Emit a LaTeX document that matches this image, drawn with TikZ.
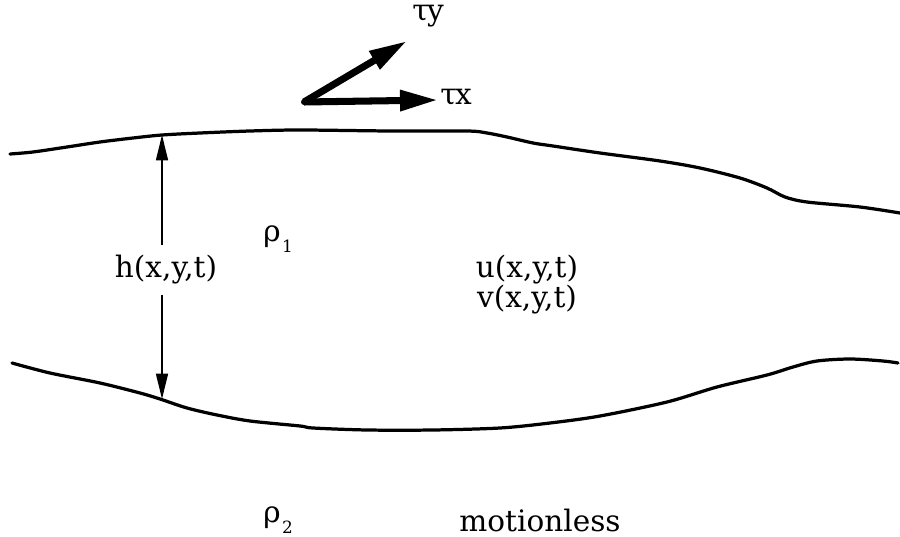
\documentclass[tikz,border=0pt]{standalone}
\usepackage{fontspec}
\setmainfont{DejaVu Serif}
\usetikzlibrary{arrows.meta}
\begin{document}
\begin{tikzpicture}[x=0.025cm,y=-0.025cm,
  lbl/.style={font=\fontsize{21}{24}\selectfont, inner sep=0pt},
  surf/.style={line width=2.3pt, line join=round, line cap=round},
  harrow/.style={line width=1.1pt, -{Triangle[length=18pt,width=8.5pt]}},
  tauarrow/.style={line width=5pt, -{Triangle[length=27pt,width=14pt]}}]
\useasboundingbox (0,0) rectangle (900,537);
% free surface
\draw[surf] plot[smooth, tension=0.5] coordinates {(10,154) (33,152) (67,147) (100,142) (133,138) (162,135) (200,133) (250,131) (300,130) (390,131) (467,131) (487,133) (507,137) (533,143) (553,146) (600,153) (660,161) (700,168) (740,178) (767,188) (785,197) (807,202) (860,207) (900,213)};
% interface
\draw[surf] plot[smooth, tension=0.5] coordinates {(12,363) (50,373) (100,383) (140,393) (160,399) (187,408) (217,415) (250,421) (300,426) (313,428) (367,430) (433,430) (500,428) (550,423) (600,416) (667,402) (717,387) (767,375) (793,367) (817,361) (850,359) (883,361) (898,363)};
% thickness arrow
\coordinate (htop) at (162,135);
\coordinate (hbot) at (162,399);
\node[lbl, inner ysep=7pt] (h) at (166,270) {h(x,y,t)};
\draw[harrow] (h.north -| htop) -- (htop);
\draw[harrow] (h.south -| hbot) -- (hbot);
% wind stress
\coordinate (corner) at (304,102);
\coordinate (tx) at (438,100);
\coordinate (ty) at (407,41);
\draw[tauarrow] (corner) -- (tx);
\draw[tauarrow] (corner) -- (ty);
\fill (corner) circle (3);
\node[lbl, anchor=west] (taux) at (440,97) {τ\kern-1pt x};
\node[lbl, anchor=west] (tauy) at (412,16) {τ\kern-1pt y};
% labels
\node[lbl] (rho1) at (278,239) {ρ\kern1pt\raisebox{-8pt}{\fontsize{12}{13}\selectfont 1}};
\node[lbl] (u) at (527,270) {u(x,y,t)};
\node[lbl] (v) at (527,300) {v(x,y,t)};
\node[lbl] (rho2) at (278,520) {ρ\kern1pt\raisebox{-8pt}{\fontsize{12}{13}\selectfont 2}};
\node[lbl] (mot) at (540,520) {motionless};
\end{tikzpicture}
\end{document}
